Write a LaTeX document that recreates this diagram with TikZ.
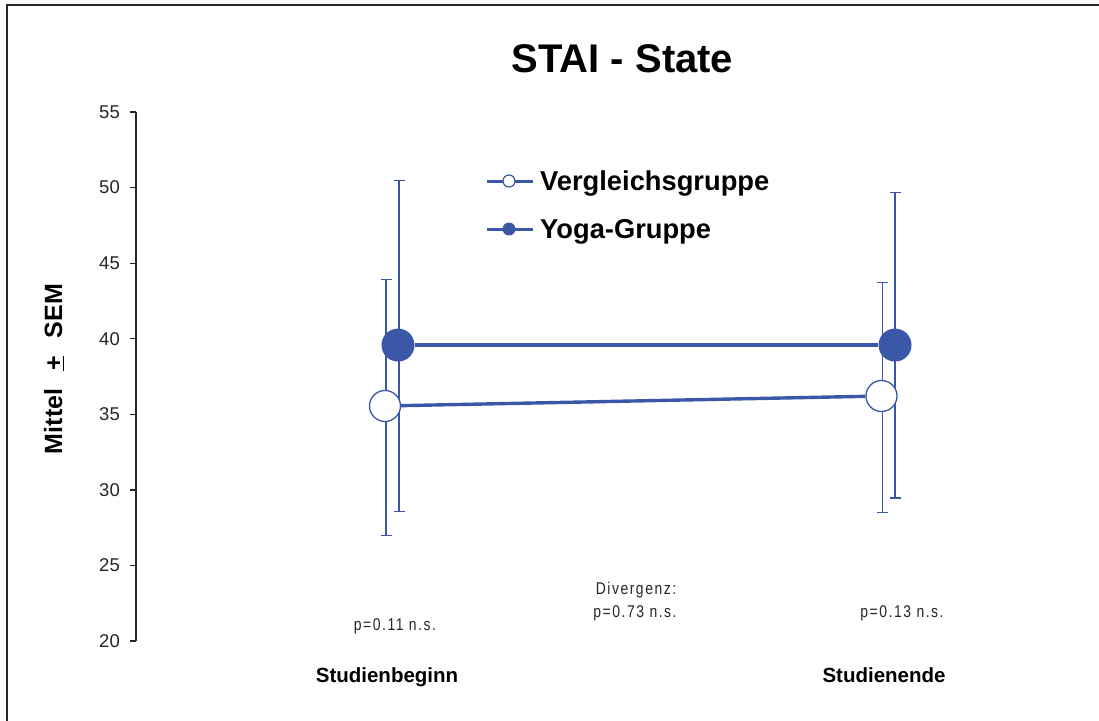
\documentclass[tikz,border=0pt]{standalone}
\usepackage{fontspec}
\setmainfont{Liberation Sans}
\newfontfamily\pfont[FakeStretch=0.82,LetterSpace=9]{Liberation Sans}
\definecolor{plotblue}{RGB}{58,87,168}
\definecolor{framegray}{RGB}{40,40,40}

\begin{document}
\begin{tikzpicture}[x=1pt,y=-1pt,
  declare function={vy(\v)=641-(\v-20)*15.114;},
  axisline/.style={line width=1.3pt, draw=framegray},
  errbar/.style={draw=plotblue, line width=1.1pt},
  trend/.style={draw=plotblue, line width=3.4pt},
  openmark/.style={circle, draw=plotblue, line width=1.3pt, fill=white, minimum size=31pt, inner sep=0pt},
  fullmark/.style={circle, fill=plotblue, minimum size=33pt, inner sep=0pt},
  openlegend/.style={circle, draw=plotblue, line width=1.2pt, fill=white, minimum size=12pt, inner sep=0pt},
  fulllegend/.style={circle, fill=plotblue, minimum size=13pt, inner sep=0pt},
  ticklab/.style={anchor=east, inner sep=0pt, font=\fontsize{18.5}{20}\selectfont, text=black!85},
  ptext/.style={anchor=base, inner sep=0pt, font=\pfont\fontsize{17}{19}\selectfont, text=black!85},
  catlab/.style={anchor=base, inner sep=0pt, font=\bfseries\fontsize{20.5}{22}\selectfont},
  leglab/.style={anchor=base west, inner sep=0pt, font=\bfseries\fontsize{27.3}{29}\selectfont}
]
\useasboundingbox (0,0) rectangle (1099,720);
\clip (0,0) rectangle (1099,720);

% outer frame
\draw[line width=2pt, framegray] (7,5) rectangle (1130,750);

% title
\node[anchor=base, inner sep=0pt, font=\bfseries\fontsize{40}{44}\selectfont] (title) at (622.5,72) {STAI - State};

% y axis with ticks
\coordinate (ytop) at (136,{vy(55)});
\coordinate (ybot) at (136,{vy(20)});
\draw[axisline] (ytop) -- (ybot);
\foreach \v in {20,25,...,55}{
  \coordinate (tk\v) at (136,{vy(\v)});
  \draw[axisline] (tk\v) -- ++(-6,0);
  \node[ticklab] (tl\v) at (120,{vy(\v)}) {\v};
}

% y axis title
\node[anchor=base, rotate=90, inner sep=0pt, font=\bfseries\fontsize{25}{27}\selectfont] (ylab) at (62,369) {Mittel \,\ \underline{+}\,\ \ SEM};

% error bars
\newcommand{\errbar}[4]{% name, x, low, high
  \coordinate (#1lo) at (#2,{vy(#3)});
  \coordinate (#1hi) at (#2,{vy(#4)});
  \draw[errbar] (#1lo) -- (#1hi);
  \draw[errbar] ([xshift=-5.5pt]#1lo) -- ([xshift=5.5pt]#1lo);
  \draw[errbar] ([xshift=-5.5pt]#1hi) -- ([xshift=5.5pt]#1hi);
}
\errbar{vgA}{386}{26.97}{43.9}
\errbar{ygA}{399}{28.55}{50.45}
\errbar{vgB}{882.3}{28.53}{43.7}
\errbar{ygB}{895}{29.46}{49.66}

% markers
\node[openmark] (vgA) at (385,{vy(35.55)}) {};
\node[openmark] (vgB) at (881.5,{vy(36.21)}) {};
\node[fullmark] (ygA) at (398,{vy(39.58)}) {};
\node[fullmark] (ygB) at (895,{vy(39.58)}) {};
\draw[trend] (vgA) -- (vgB);
\draw[trend] (ygA) -- (ygB);

% legend
\coordinate (lv1) at (487,181);
\coordinate (lv2) at (533,181);
\coordinate (ly1) at (487,229);
\coordinate (ly2) at (533,229);
\draw[trend, line width=3pt] (lv1) -- (lv2);
\draw[trend, line width=3pt] (ly1) -- (ly2);
\node[openlegend] (lvm) at (509,181) {};
\node[fulllegend] (lym) at (509,229) {};
\node[leglab] (lvt) at (540,190) {Vergleichsgruppe};
\node[leglab] (lyt) at (540,238) {Yoga-Gruppe};

% significance notes
\node[ptext] (pA) at (395,630) {p=0.11 n.s.};
\node[ptext] (pdiv1) at (636,594) {Divergenz:};
\node[ptext] (pdiv2) at (635,617) {p=0.73 n.s.};
\node[ptext] (pB) at (902,617) {p=0.13 n.s.};

% category labels
\node[catlab] (catA) at (387,682) {Studienbeginn};
\node[catlab] (catB) at (884,682) {Studienende};
\end{tikzpicture}
\end{document}
